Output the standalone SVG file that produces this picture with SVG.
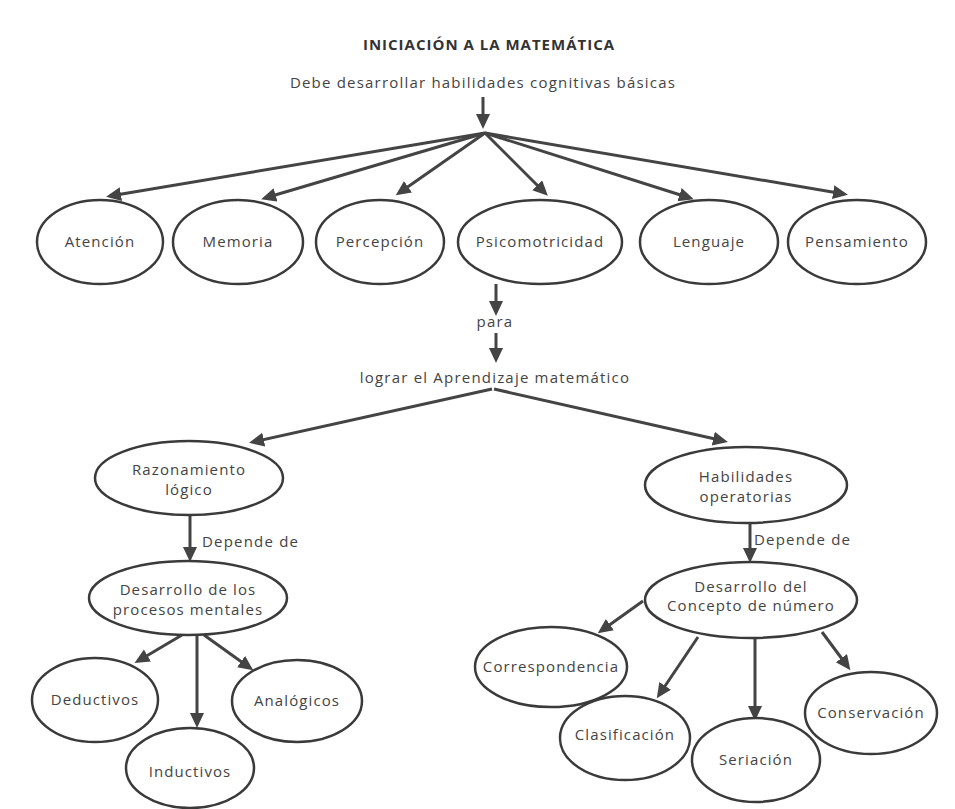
<svg xmlns="http://www.w3.org/2000/svg" width="955" height="809" viewBox="0 0 955 809">
<style>
.n ellipse{fill:#fff;stroke:#3a3a3a;stroke-width:2.5}
text{font-family:"Open Sans","Liberation Sans",sans-serif;fill:#444;font-size:15px;text-anchor:middle;letter-spacing:1.1px}
.c line{stroke:#444;stroke-width:3;marker-end:url(#ah)}
.lbl{font-size:15px;letter-spacing:1.2px}
</style>
<defs>
<marker id="ah" markerUnits="userSpaceOnUse" markerWidth="16" markerHeight="16" refX="11" refY="7" orient="auto">
<path d="M0,0 L15,7 L0,14 z" fill="#444"/>
</marker>
</defs>
<rect width="955" height="809" fill="#fff"/>
<text x="489" y="50" style="font-weight:bold;font-size:15px;letter-spacing:1px;fill:#333">INICIACIÓN A LA MATEMÁTICA</text>
<text x="483" y="88" class="lbl">Debe desarrollar habilidades cognitivas básicas</text>
<text x="495" y="327" class="lbl">para</text>
<text x="495" y="383" class="lbl">lograr el Aprendizaje matemático</text>
<text x="202" y="547" class="lbl" style="text-anchor:start">Depende de</text>
<text x="754" y="545" class="lbl" style="text-anchor:start">Depende de</text>
<g class="c" id="connectors">
<line x1="483" y1="97" x2="483" y2="125"/>
<line x1="485" y1="133" x2="110" y2="196"/>
<line x1="485" y1="133" x2="265" y2="198"/>
<line x1="485" y1="133" x2="399" y2="193"/>
<line x1="485" y1="133" x2="545" y2="193"/>
<line x1="485" y1="133" x2="690" y2="198"/>
<line x1="485" y1="133" x2="844" y2="194"/>
<line x1="496" y1="284" x2="496" y2="312"/>
<line x1="496" y1="333" x2="496" y2="359"/>
<line x1="492" y1="389" x2="253" y2="442"/>
<line x1="494" y1="389" x2="724" y2="441"/>
<line x1="190" y1="515" x2="190" y2="558"/>
<line x1="750" y1="523" x2="750" y2="559"/>
<line x1="182" y1="635" x2="138" y2="661"/>
<line x1="197" y1="636" x2="197" y2="724"/>
<line x1="204" y1="635" x2="250" y2="668"/>
<line x1="643" y1="601" x2="601" y2="631"/>
<line x1="698" y1="637" x2="659" y2="695"/>
<line x1="755" y1="638" x2="755" y2="717"/>
<line x1="822" y1="632" x2="848" y2="667"/>
</g>
<g class="n" id="atencion"><ellipse cx="100" cy="242" rx="63" ry="42"/><text x="100" y="247">Atención</text></g>
<g class="n" id="memoria"><ellipse cx="238" cy="242" rx="65" ry="42"/><text x="238" y="247">Memoria</text></g>
<g class="n" id="percepcion"><ellipse cx="380" cy="242" rx="64" ry="42"/><text x="380" y="247">Percepción</text></g>
<g class="n" id="psicomotricidad"><ellipse cx="540" cy="242" rx="82" ry="42"/><text x="540" y="247">Psicomotricidad</text></g>
<g class="n" id="lenguaje"><ellipse cx="709" cy="242" rx="69" ry="42"/><text x="709" y="247">Lenguaje</text></g>
<g class="n" id="pensamiento"><ellipse cx="857" cy="242" rx="69" ry="42"/><text x="857" y="247">Pensamiento</text></g>
<g class="n" id="razonamiento"><ellipse cx="189" cy="478" rx="94" ry="37"/><text x="189" y="475">Razonamiento</text><text x="189" y="495">lógico</text></g>
<g class="n" id="habilidades"><ellipse cx="746" cy="485" rx="101" ry="38"/><text x="746" y="482">Habilidades</text><text x="746" y="502">operatorias</text></g>
<g class="n" id="procesos"><ellipse cx="188" cy="598" rx="99" ry="37"/><text x="188" y="595">Desarrollo de los</text><text x="188" y="615">procesos mentales</text></g>
<g class="n" id="concepto"><ellipse cx="751" cy="600" rx="106" ry="38"/><text x="751" y="592">Desarrollo del</text><text x="751" y="611">Concepto de número</text></g>
<g class="n" id="deductivos"><ellipse cx="95" cy="700" rx="63" ry="42"/><text x="95" y="705">Deductivos</text></g>
<g class="n" id="inductivos"><ellipse cx="190" cy="768" rx="64" ry="40"/><text x="190" y="777">Inductivos</text></g>
<g class="n" id="analogicos"><ellipse cx="297" cy="701" rx="65" ry="41"/><text x="297" y="706">Analógicos</text></g>
<g class="n" id="correspondencia"><ellipse cx="551" cy="667" rx="76" ry="40"/><text x="551" y="672">Correspondencia</text></g>
<g class="n" id="clasificacion"><ellipse cx="625" cy="738" rx="65" ry="42"/><text x="625" y="740">Clasificación</text></g>
<g class="n" id="seriacion"><ellipse cx="756" cy="760" rx="64" ry="42"/><text x="756" y="765">Seriación</text></g>
<g class="n" id="conservacion"><ellipse cx="871" cy="713" rx="66" ry="41"/><text x="871" y="718">Conservación</text></g>
</svg>
